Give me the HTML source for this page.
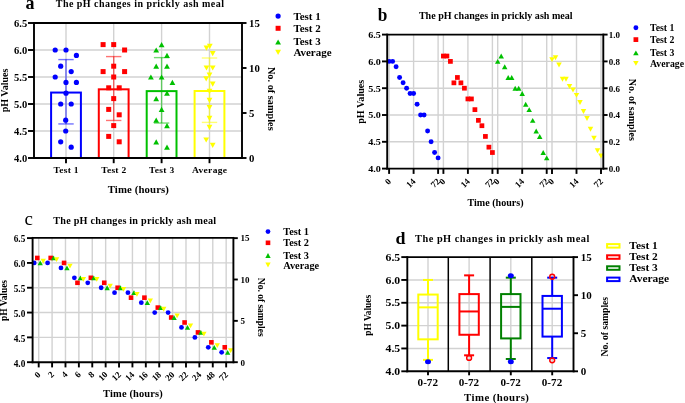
<!DOCTYPE html>
<html><head><meta charset="utf-8"><title>pH changes</title>
<style>
html,body{margin:0;padding:0;background:#fff;width:685px;height:403px;overflow:hidden}
svg{display:block;font-family:"Liberation Serif", serif}
svg{will-change:transform}
</style></head><body>
<svg width="685" height="403" viewBox="0 0 685 403">
<rect x="0" y="0" width="685" height="403" fill="#fff"/>
<line x1="34.00" y1="131.00" x2="242.00" y2="131.00" stroke="#d2d2d2" stroke-width="1.4" />
<line x1="34.00" y1="104.00" x2="242.00" y2="104.00" stroke="#d2d2d2" stroke-width="1.4" />
<line x1="34.00" y1="77.00" x2="242.00" y2="77.00" stroke="#d2d2d2" stroke-width="1.4" />
<line x1="34.00" y1="50.00" x2="242.00" y2="50.00" stroke="#d2d2d2" stroke-width="1.4" />
<line x1="66.00" y1="23.00" x2="66.00" y2="158.00" stroke="#d2d2d2" stroke-width="1.4" />
<line x1="113.70" y1="23.00" x2="113.70" y2="158.00" stroke="#d2d2d2" stroke-width="1.4" />
<line x1="161.60" y1="23.00" x2="161.60" y2="158.00" stroke="#d2d2d2" stroke-width="1.4" />
<line x1="209.50" y1="23.00" x2="209.50" y2="158.00" stroke="#d2d2d2" stroke-width="1.4" />
<rect x="51.10" y="92.56" width="29.8" height="65.44" fill="none" stroke="#0000ff" stroke-width="2"/>
<rect x="98.80" y="89.32" width="29.8" height="68.68" fill="none" stroke="#ff0000" stroke-width="2"/>
<rect x="146.70" y="91.12" width="29.8" height="66.88" fill="none" stroke="#00c000" stroke-width="2"/>
<rect x="194.60" y="91.00" width="29.8" height="67.00" fill="none" stroke="#ffff00" stroke-width="2"/>
<circle cx="55.20" cy="50.00" r="2.6" fill="#0000ff"/>
<circle cx="66.00" cy="50.00" r="2.6" fill="#0000ff"/>
<circle cx="76.40" cy="55.40" r="2.6" fill="#0000ff"/>
<circle cx="60.70" cy="66.20" r="2.6" fill="#0000ff"/>
<circle cx="71.20" cy="71.60" r="2.6" fill="#0000ff"/>
<circle cx="55.20" cy="77.00" r="2.6" fill="#0000ff"/>
<circle cx="66.00" cy="82.40" r="2.6" fill="#0000ff"/>
<circle cx="76.40" cy="82.40" r="2.6" fill="#0000ff"/>
<circle cx="66.00" cy="93.20" r="2.6" fill="#0000ff"/>
<circle cx="60.70" cy="104.00" r="2.6" fill="#0000ff"/>
<circle cx="71.20" cy="104.00" r="2.6" fill="#0000ff"/>
<circle cx="65.70" cy="120.20" r="2.6" fill="#0000ff"/>
<circle cx="65.70" cy="131.00" r="2.6" fill="#0000ff"/>
<circle cx="60.70" cy="141.80" r="2.6" fill="#0000ff"/>
<circle cx="71.20" cy="147.20" r="2.6" fill="#0000ff"/>
<rect x="100.60" y="42.10" width="5.0" height="5.0" fill="#ff0000"/>
<rect x="111.20" y="42.10" width="5.0" height="5.0" fill="#ff0000"/>
<rect x="122.10" y="47.50" width="5.0" height="5.0" fill="#ff0000"/>
<rect x="111.20" y="63.70" width="5.0" height="5.0" fill="#ff0000"/>
<rect x="100.60" y="69.10" width="5.0" height="5.0" fill="#ff0000"/>
<rect x="122.10" y="69.10" width="5.0" height="5.0" fill="#ff0000"/>
<rect x="111.20" y="74.50" width="5.0" height="5.0" fill="#ff0000"/>
<rect x="106.20" y="85.30" width="5.0" height="5.0" fill="#ff0000"/>
<rect x="116.70" y="85.30" width="5.0" height="5.0" fill="#ff0000"/>
<rect x="111.20" y="96.10" width="5.0" height="5.0" fill="#ff0000"/>
<rect x="106.20" y="106.90" width="5.0" height="5.0" fill="#ff0000"/>
<rect x="116.70" y="112.30" width="5.0" height="5.0" fill="#ff0000"/>
<rect x="111.20" y="123.10" width="5.0" height="5.0" fill="#ff0000"/>
<rect x="106.20" y="133.90" width="5.0" height="5.0" fill="#ff0000"/>
<rect x="116.70" y="139.30" width="5.0" height="5.0" fill="#ff0000"/>
<polygon points="158.70,47.20 164.50,47.20 161.60,42.00" fill="#00c000"/>
<polygon points="153.30,52.60 159.10,52.60 156.20,47.40" fill="#00c000"/>
<polygon points="164.10,58.00 169.90,58.00 167.00,52.80" fill="#00c000"/>
<polygon points="153.30,68.80 159.10,68.80 156.20,63.60" fill="#00c000"/>
<polygon points="164.10,68.80 169.90,68.80 167.00,63.60" fill="#00c000"/>
<polygon points="148.00,79.60 153.80,79.60 150.90,74.40" fill="#00c000"/>
<polygon points="158.70,79.60 164.50,79.60 161.60,74.40" fill="#00c000"/>
<polygon points="169.50,85.00 175.30,85.00 172.40,79.80" fill="#00c000"/>
<polygon points="164.10,95.80 169.90,95.80 167.00,90.60" fill="#00c000"/>
<polygon points="153.30,101.20 159.10,101.20 156.20,96.00" fill="#00c000"/>
<polygon points="158.70,112.00 164.50,112.00 161.60,106.80" fill="#00c000"/>
<polygon points="153.30,122.80 159.10,122.80 156.20,117.60" fill="#00c000"/>
<polygon points="164.10,128.20 169.90,128.20 167.00,123.00" fill="#00c000"/>
<polygon points="153.30,144.40 159.10,144.40 156.20,139.20" fill="#00c000"/>
<polygon points="164.10,149.80 169.90,149.80 167.00,144.60" fill="#00c000"/>
<polygon points="206.90,43.80 212.70,43.80 209.80,49.00" fill="#ffff00"/>
<polygon points="203.60,45.60 209.40,45.60 206.50,50.80" fill="#ffff00"/>
<polygon points="209.80,51.00 215.60,51.00 212.70,56.20" fill="#ffff00"/>
<polygon points="203.60,65.40 209.40,65.40 206.50,70.60" fill="#ffff00"/>
<polygon points="209.80,65.40 215.60,65.40 212.70,70.60" fill="#ffff00"/>
<polygon points="206.60,72.60 212.40,72.60 209.50,77.80" fill="#ffff00"/>
<polygon points="203.30,76.20 209.10,76.20 206.20,81.40" fill="#ffff00"/>
<polygon points="209.80,81.60 215.60,81.60 212.70,86.80" fill="#ffff00"/>
<polygon points="206.60,88.80 212.40,88.80 209.50,94.00" fill="#ffff00"/>
<polygon points="206.60,97.80 212.40,97.80 209.50,103.00" fill="#ffff00"/>
<polygon points="206.60,105.00 212.40,105.00 209.50,110.20" fill="#ffff00"/>
<polygon points="206.60,115.80 212.40,115.80 209.50,121.00" fill="#ffff00"/>
<polygon points="206.60,124.80 212.40,124.80 209.50,130.00" fill="#ffff00"/>
<polygon points="203.30,137.40 209.10,137.40 206.20,142.60" fill="#ffff00"/>
<polygon points="209.80,142.80 215.60,142.80 212.70,148.00" fill="#ffff00"/>
<line x1="66.00" y1="59.59" x2="66.00" y2="123.93" stroke="#0000ff" stroke-width="1.4" stroke-opacity="0.55"/>
<line x1="58.30" y1="59.59" x2="73.70" y2="59.59" stroke="#0000ff" stroke-width="1.4" stroke-opacity="0.55"/>
<line x1="58.30" y1="123.93" x2="73.70" y2="123.93" stroke="#0000ff" stroke-width="1.4" stroke-opacity="0.55"/>
<line x1="113.70" y1="56.58" x2="113.70" y2="120.46" stroke="#ff0000" stroke-width="1.4" stroke-opacity="0.55"/>
<line x1="106.00" y1="56.58" x2="121.40" y2="56.58" stroke="#ff0000" stroke-width="1.4" stroke-opacity="0.55"/>
<line x1="106.00" y1="120.46" x2="121.40" y2="120.46" stroke="#ff0000" stroke-width="1.4" stroke-opacity="0.55"/>
<line x1="161.60" y1="57.61" x2="161.60" y2="123.03" stroke="#00c000" stroke-width="1.4" stroke-opacity="0.55"/>
<line x1="153.90" y1="57.61" x2="169.30" y2="57.61" stroke="#00c000" stroke-width="1.4" stroke-opacity="0.55"/>
<line x1="153.90" y1="123.03" x2="169.30" y2="123.03" stroke="#00c000" stroke-width="1.4" stroke-opacity="0.55"/>
<line x1="209.50" y1="58.00" x2="209.50" y2="122.40" stroke="#ffff00" stroke-width="1.4" stroke-opacity="0.55"/>
<line x1="201.80" y1="58.00" x2="217.20" y2="58.00" stroke="#ffff00" stroke-width="1.4" stroke-opacity="0.55"/>
<line x1="201.80" y1="122.40" x2="217.20" y2="122.40" stroke="#ffff00" stroke-width="1.4" stroke-opacity="0.55"/>
<line x1="34.00" y1="23.00" x2="242.00" y2="23.00" stroke="#000000" stroke-width="1.9" />
<line x1="33.05" y1="158.00" x2="242.95" y2="158.00" stroke="#000000" stroke-width="1.9" />
<line x1="34.00" y1="22.05" x2="34.00" y2="158.95" stroke="#000000" stroke-width="1.9" />
<line x1="242.00" y1="22.05" x2="242.00" y2="158.95" stroke="#000000" stroke-width="1.9" />
<line x1="28.00" y1="158.00" x2="34.00" y2="158.00" stroke="#000000" stroke-width="1.9" />
<text x="27.20" y="161.70" font-size="9.6" text-anchor="end" font-weight="bold" fill="#000000" textLength="13.20" lengthAdjust="spacingAndGlyphs">4.0</text>
<line x1="28.00" y1="131.00" x2="34.00" y2="131.00" stroke="#000000" stroke-width="1.9" />
<text x="27.20" y="134.70" font-size="9.6" text-anchor="end" font-weight="bold" fill="#000000" textLength="13.20" lengthAdjust="spacingAndGlyphs">4.5</text>
<line x1="28.00" y1="104.00" x2="34.00" y2="104.00" stroke="#000000" stroke-width="1.9" />
<text x="27.20" y="107.70" font-size="9.6" text-anchor="end" font-weight="bold" fill="#000000" textLength="13.20" lengthAdjust="spacingAndGlyphs">5.0</text>
<line x1="28.00" y1="77.00" x2="34.00" y2="77.00" stroke="#000000" stroke-width="1.9" />
<text x="27.20" y="80.70" font-size="9.6" text-anchor="end" font-weight="bold" fill="#000000" textLength="13.20" lengthAdjust="spacingAndGlyphs">5.5</text>
<line x1="28.00" y1="50.00" x2="34.00" y2="50.00" stroke="#000000" stroke-width="1.9" />
<text x="27.20" y="53.70" font-size="9.6" text-anchor="end" font-weight="bold" fill="#000000" textLength="13.20" lengthAdjust="spacingAndGlyphs">6.0</text>
<line x1="28.00" y1="23.00" x2="34.00" y2="23.00" stroke="#000000" stroke-width="1.9" />
<text x="27.20" y="26.70" font-size="9.6" text-anchor="end" font-weight="bold" fill="#000000" textLength="13.20" lengthAdjust="spacingAndGlyphs">6.5</text>
<line x1="242.00" y1="158.00" x2="246.50" y2="158.00" stroke="#000000" stroke-width="1.9" />
<text x="249.00" y="161.50" font-size="9.8" text-anchor="start" font-weight="bold" fill="#000000" textLength="5.39" lengthAdjust="spacingAndGlyphs">0</text>
<line x1="242.00" y1="113.00" x2="246.50" y2="113.00" stroke="#000000" stroke-width="1.9" />
<text x="249.00" y="116.50" font-size="9.8" text-anchor="start" font-weight="bold" fill="#000000" textLength="5.39" lengthAdjust="spacingAndGlyphs">5</text>
<line x1="242.00" y1="68.00" x2="246.50" y2="68.00" stroke="#000000" stroke-width="1.9" />
<text x="249.00" y="71.50" font-size="9.8" text-anchor="start" font-weight="bold" fill="#000000" textLength="10.78" lengthAdjust="spacingAndGlyphs">10</text>
<line x1="242.00" y1="23.00" x2="246.50" y2="23.00" stroke="#000000" stroke-width="1.9" />
<text x="249.00" y="26.50" font-size="9.8" text-anchor="start" font-weight="bold" fill="#000000" textLength="10.78" lengthAdjust="spacingAndGlyphs">15</text>
<line x1="66.00" y1="158.00" x2="66.00" y2="163.20" stroke="#000000" stroke-width="1.9" />
<text transform="translate(66.00 173.40) scale(1.06 1)" x="0" y="0" font-size="9.0" text-anchor="middle" font-weight="bold" fill="#000000" textLength="23.69" lengthAdjust="spacing">Test 1</text>
<line x1="113.70" y1="158.00" x2="113.70" y2="163.20" stroke="#000000" stroke-width="1.9" />
<text transform="translate(113.70 173.40) scale(1.06 1)" x="0" y="0" font-size="9.0" text-anchor="middle" font-weight="bold" fill="#000000" textLength="23.69" lengthAdjust="spacing">Test 2</text>
<line x1="161.60" y1="158.00" x2="161.60" y2="163.20" stroke="#000000" stroke-width="1.9" />
<text transform="translate(161.60 173.40) scale(1.06 1)" x="0" y="0" font-size="9.0" text-anchor="middle" font-weight="bold" fill="#000000" textLength="23.69" lengthAdjust="spacing">Test 3</text>
<line x1="209.50" y1="158.00" x2="209.50" y2="163.20" stroke="#000000" stroke-width="1.9" />
<text transform="translate(209.50 173.40) scale(1.06 1)" x="0" y="0" font-size="9.0" text-anchor="middle" font-weight="bold" fill="#000000" textLength="33.09" lengthAdjust="spacing">Average</text>
<text transform="translate(138.30 192.90) scale(1.06 1)" x="0" y="0" font-size="10.2" text-anchor="middle" font-weight="bold" fill="#000000" textLength="57.83" lengthAdjust="spacing">Time (hours)</text>
<text x="8.00" y="90.50" font-size="10" text-anchor="middle" font-weight="bold" fill="#000000" textLength="43.70" lengthAdjust="spacingAndGlyphs" transform="rotate(-90 8.00 90.50)">pH Values</text>
<text x="267.80" y="98.80" font-size="10" text-anchor="middle" font-weight="bold" fill="#000000" textLength="63.70" lengthAdjust="spacingAndGlyphs" transform="rotate(90 267.80 98.80)">No. of samples</text>
<text x="55.80" y="6.80" font-size="10" text-anchor="start" font-weight="bold" fill="#000000" textLength="168.20" lengthAdjust="spacing">The pH changes in prickly ash meal</text>
<text x="25.60" y="8.80" font-size="18" text-anchor="start" font-weight="bold" fill="#000000" textLength="9.00" lengthAdjust="spacingAndGlyphs">a</text>
<circle cx="278.10" cy="16.10" r="2.6" fill="#0000ff"/>
<text x="293.40" y="19.60" font-size="9.8" text-anchor="start" font-weight="bold" fill="#000000" textLength="27.34" lengthAdjust="spacingAndGlyphs">Test 1</text>
<rect x="275.60" y="25.80" width="5.0" height="5.0" fill="#ff0000"/>
<text x="293.40" y="31.50" font-size="9.8" text-anchor="start" font-weight="bold" fill="#000000" textLength="27.34" lengthAdjust="spacingAndGlyphs">Test 2</text>
<polygon points="275.20,44.60 281.00,44.60 278.10,39.40" fill="#00c000"/>
<text x="293.40" y="45.00" font-size="9.8" text-anchor="start" font-weight="bold" fill="#000000" textLength="27.34" lengthAdjust="spacingAndGlyphs">Test 3</text>
<polygon points="275.20,49.80 281.00,49.80 278.10,55.00" fill="#ffff00"/>
<text x="293.40" y="55.80" font-size="9.8" text-anchor="start" font-weight="bold" fill="#000000" textLength="38.19" lengthAdjust="spacingAndGlyphs">Average</text>
<line x1="387.20" y1="141.80" x2="603.30" y2="141.80" stroke="#d2d2d2" stroke-width="1.4" />
<line x1="387.20" y1="115.00" x2="603.30" y2="115.00" stroke="#d2d2d2" stroke-width="1.4" />
<line x1="387.20" y1="88.20" x2="603.30" y2="88.20" stroke="#d2d2d2" stroke-width="1.4" />
<line x1="387.20" y1="61.40" x2="603.30" y2="61.40" stroke="#d2d2d2" stroke-width="1.4" />
<line x1="389.10" y1="34.60" x2="389.10" y2="168.60" stroke="#d2d2d2" stroke-width="1.4" />
<line x1="413.60" y1="34.60" x2="413.60" y2="168.60" stroke="#d2d2d2" stroke-width="1.4" />
<line x1="438.10" y1="34.60" x2="438.10" y2="168.60" stroke="#d2d2d2" stroke-width="1.4" />
<line x1="443.40" y1="34.60" x2="443.40" y2="168.60" stroke="#d2d2d2" stroke-width="1.4" />
<line x1="467.90" y1="34.60" x2="467.90" y2="168.60" stroke="#d2d2d2" stroke-width="1.4" />
<line x1="492.40" y1="34.60" x2="492.40" y2="168.60" stroke="#d2d2d2" stroke-width="1.4" />
<line x1="497.70" y1="34.60" x2="497.70" y2="168.60" stroke="#d2d2d2" stroke-width="1.4" />
<line x1="522.20" y1="34.60" x2="522.20" y2="168.60" stroke="#d2d2d2" stroke-width="1.4" />
<line x1="546.70" y1="34.60" x2="546.70" y2="168.60" stroke="#d2d2d2" stroke-width="1.4" />
<line x1="552.00" y1="34.60" x2="552.00" y2="168.60" stroke="#d2d2d2" stroke-width="1.4" />
<line x1="576.50" y1="34.60" x2="576.50" y2="168.60" stroke="#d2d2d2" stroke-width="1.4" />
<line x1="601.00" y1="34.60" x2="601.00" y2="168.60" stroke="#d2d2d2" stroke-width="1.4" />
<circle cx="389.10" cy="61.40" r="2.4699999999999998" fill="#0000ff"/>
<circle cx="392.60" cy="61.40" r="2.4699999999999998" fill="#0000ff"/>
<circle cx="396.10" cy="66.76" r="2.4699999999999998" fill="#0000ff"/>
<circle cx="399.60" cy="77.48" r="2.4699999999999998" fill="#0000ff"/>
<circle cx="403.10" cy="82.84" r="2.4699999999999998" fill="#0000ff"/>
<circle cx="406.60" cy="88.20" r="2.4699999999999998" fill="#0000ff"/>
<circle cx="410.10" cy="93.56" r="2.4699999999999998" fill="#0000ff"/>
<circle cx="413.60" cy="93.56" r="2.4699999999999998" fill="#0000ff"/>
<circle cx="417.10" cy="104.28" r="2.4699999999999998" fill="#0000ff"/>
<circle cx="420.60" cy="115.00" r="2.4699999999999998" fill="#0000ff"/>
<circle cx="424.10" cy="115.00" r="2.4699999999999998" fill="#0000ff"/>
<circle cx="427.60" cy="131.08" r="2.4699999999999998" fill="#0000ff"/>
<circle cx="431.10" cy="141.80" r="2.4699999999999998" fill="#0000ff"/>
<circle cx="434.60" cy="152.52" r="2.4699999999999998" fill="#0000ff"/>
<circle cx="438.10" cy="157.88" r="2.4699999999999998" fill="#0000ff"/>
<rect x="441.03" y="53.67" width="4.75" height="4.75" fill="#ff0000"/>
<rect x="444.53" y="53.67" width="4.75" height="4.75" fill="#ff0000"/>
<rect x="448.03" y="59.02" width="4.75" height="4.75" fill="#ff0000"/>
<rect x="451.53" y="80.47" width="4.75" height="4.75" fill="#ff0000"/>
<rect x="455.03" y="75.10" width="4.75" height="4.75" fill="#ff0000"/>
<rect x="458.53" y="80.47" width="4.75" height="4.75" fill="#ff0000"/>
<rect x="462.03" y="85.82" width="4.75" height="4.75" fill="#ff0000"/>
<rect x="465.53" y="96.55" width="4.75" height="4.75" fill="#ff0000"/>
<rect x="469.03" y="96.55" width="4.75" height="4.75" fill="#ff0000"/>
<rect x="472.53" y="107.27" width="4.75" height="4.75" fill="#ff0000"/>
<rect x="476.03" y="117.98" width="4.75" height="4.75" fill="#ff0000"/>
<rect x="479.53" y="123.34" width="4.75" height="4.75" fill="#ff0000"/>
<rect x="483.03" y="134.06" width="4.75" height="4.75" fill="#ff0000"/>
<rect x="486.53" y="144.78" width="4.75" height="4.75" fill="#ff0000"/>
<rect x="490.03" y="150.15" width="4.75" height="4.75" fill="#ff0000"/>
<polygon points="494.95,63.87 500.46,63.87 497.70,58.93" fill="#00c000"/>
<polygon points="498.45,58.51 503.96,58.51 501.20,53.57" fill="#00c000"/>
<polygon points="501.95,69.23 507.46,69.23 504.70,64.29" fill="#00c000"/>
<polygon points="505.45,79.95 510.96,79.95 508.20,75.01" fill="#00c000"/>
<polygon points="508.95,79.95 514.46,79.95 511.70,75.01" fill="#00c000"/>
<polygon points="512.45,90.67 517.96,90.67 515.20,85.73" fill="#00c000"/>
<polygon points="515.95,90.67 521.46,90.67 518.70,85.73" fill="#00c000"/>
<polygon points="519.45,96.03 524.96,96.03 522.20,91.09" fill="#00c000"/>
<polygon points="522.95,106.75 528.46,106.75 525.70,101.81" fill="#00c000"/>
<polygon points="526.45,112.11 531.96,112.11 529.20,107.17" fill="#00c000"/>
<polygon points="529.95,122.83 535.46,122.83 532.70,117.89" fill="#00c000"/>
<polygon points="533.45,133.55 538.96,133.55 536.20,128.61" fill="#00c000"/>
<polygon points="536.95,138.91 542.46,138.91 539.70,133.97" fill="#00c000"/>
<polygon points="540.45,154.99 545.96,154.99 543.20,150.05" fill="#00c000"/>
<polygon points="543.95,160.35 549.46,160.35 546.70,155.41" fill="#00c000"/>
<polygon points="549.25,57.14 554.75,57.14 552.00,62.08" fill="#ffff00"/>
<polygon points="552.75,55.36 558.25,55.36 555.50,60.30" fill="#ffff00"/>
<polygon points="556.25,62.50 561.75,62.50 559.00,67.44" fill="#ffff00"/>
<polygon points="559.75,76.80 565.25,76.80 562.50,81.74" fill="#ffff00"/>
<polygon points="563.25,76.80 568.75,76.80 566.00,81.74" fill="#ffff00"/>
<polygon points="566.75,83.94 572.25,83.94 569.50,88.88" fill="#ffff00"/>
<polygon points="570.25,87.52 575.75,87.52 573.00,92.46" fill="#ffff00"/>
<polygon points="573.75,92.88 579.25,92.88 576.50,97.82" fill="#ffff00"/>
<polygon points="577.25,100.02 582.75,100.02 580.00,104.96" fill="#ffff00"/>
<polygon points="580.75,108.96 586.25,108.96 583.50,113.90" fill="#ffff00"/>
<polygon points="584.25,116.10 589.75,116.10 587.00,121.04" fill="#ffff00"/>
<polygon points="587.75,126.82 593.25,126.82 590.50,131.76" fill="#ffff00"/>
<polygon points="591.25,135.76 596.75,135.76 594.00,140.70" fill="#ffff00"/>
<polygon points="594.75,148.26 600.25,148.26 597.50,153.20" fill="#ffff00"/>
<polygon points="598.25,153.62 603.75,153.62 601.00,158.56" fill="#ffff00"/>
<line x1="387.20" y1="34.60" x2="603.30" y2="34.60" stroke="#000000" stroke-width="1.9" />
<line x1="386.25" y1="168.60" x2="604.25" y2="168.60" stroke="#000000" stroke-width="1.9" />
<line x1="387.20" y1="33.65" x2="387.20" y2="169.55" stroke="#000000" stroke-width="1.9" />
<line x1="603.30" y1="33.65" x2="603.30" y2="169.55" stroke="#000000" stroke-width="1.9" />
<line x1="382.00" y1="168.60" x2="387.20" y2="168.60" stroke="#000000" stroke-width="1.9" />
<text x="380.90" y="172.00" font-size="9.2" text-anchor="end" font-weight="bold" fill="#000000" textLength="12.65" lengthAdjust="spacingAndGlyphs">4.0</text>
<line x1="382.00" y1="141.80" x2="387.20" y2="141.80" stroke="#000000" stroke-width="1.9" />
<text x="380.90" y="145.20" font-size="9.2" text-anchor="end" font-weight="bold" fill="#000000" textLength="12.65" lengthAdjust="spacingAndGlyphs">4.5</text>
<line x1="382.00" y1="115.00" x2="387.20" y2="115.00" stroke="#000000" stroke-width="1.9" />
<text x="380.90" y="118.40" font-size="9.2" text-anchor="end" font-weight="bold" fill="#000000" textLength="12.65" lengthAdjust="spacingAndGlyphs">5.0</text>
<line x1="382.00" y1="88.20" x2="387.20" y2="88.20" stroke="#000000" stroke-width="1.9" />
<text x="380.90" y="91.60" font-size="9.2" text-anchor="end" font-weight="bold" fill="#000000" textLength="12.65" lengthAdjust="spacingAndGlyphs">5.5</text>
<line x1="382.00" y1="61.40" x2="387.20" y2="61.40" stroke="#000000" stroke-width="1.9" />
<text x="380.90" y="64.80" font-size="9.2" text-anchor="end" font-weight="bold" fill="#000000" textLength="12.65" lengthAdjust="spacingAndGlyphs">6.0</text>
<line x1="382.00" y1="34.60" x2="387.20" y2="34.60" stroke="#000000" stroke-width="1.9" />
<text x="380.90" y="38.00" font-size="9.2" text-anchor="end" font-weight="bold" fill="#000000" textLength="12.65" lengthAdjust="spacingAndGlyphs">6.5</text>
<line x1="603.30" y1="168.60" x2="607.60" y2="168.60" stroke="#000000" stroke-width="1.9" />
<text x="608.80" y="172.00" font-size="9.2" text-anchor="start" font-weight="bold" fill="#000000" textLength="11.20" lengthAdjust="spacingAndGlyphs">0.0</text>
<line x1="603.30" y1="141.80" x2="607.60" y2="141.80" stroke="#000000" stroke-width="1.9" />
<text x="608.80" y="145.20" font-size="9.2" text-anchor="start" font-weight="bold" fill="#000000" textLength="11.20" lengthAdjust="spacingAndGlyphs">0.2</text>
<line x1="603.30" y1="115.00" x2="607.60" y2="115.00" stroke="#000000" stroke-width="1.9" />
<text x="608.80" y="118.40" font-size="9.2" text-anchor="start" font-weight="bold" fill="#000000" textLength="11.20" lengthAdjust="spacingAndGlyphs">0.4</text>
<line x1="603.30" y1="88.20" x2="607.60" y2="88.20" stroke="#000000" stroke-width="1.9" />
<text x="608.80" y="91.60" font-size="9.2" text-anchor="start" font-weight="bold" fill="#000000" textLength="11.20" lengthAdjust="spacingAndGlyphs">0.6</text>
<line x1="603.30" y1="61.40" x2="607.60" y2="61.40" stroke="#000000" stroke-width="1.9" />
<text x="608.80" y="64.80" font-size="9.2" text-anchor="start" font-weight="bold" fill="#000000" textLength="11.20" lengthAdjust="spacingAndGlyphs">0.8</text>
<line x1="603.30" y1="34.60" x2="607.60" y2="34.60" stroke="#000000" stroke-width="1.9" />
<text x="608.80" y="38.00" font-size="9.2" text-anchor="start" font-weight="bold" fill="#000000" textLength="11.20" lengthAdjust="spacingAndGlyphs">1.0</text>
<line x1="389.10" y1="168.60" x2="389.10" y2="173.90" stroke="#000000" stroke-width="1.9" />
<text x="391.70" y="182.00" font-size="9.0" text-anchor="end" font-weight="bold" fill="#000000" transform="rotate(-45 391.70 182.00)">0</text>
<line x1="413.60" y1="168.60" x2="413.60" y2="173.90" stroke="#000000" stroke-width="1.9" />
<text x="416.20" y="182.00" font-size="9.0" text-anchor="end" font-weight="bold" fill="#000000" transform="rotate(-45 416.20 182.00)">14</text>
<line x1="438.10" y1="168.60" x2="438.10" y2="173.90" stroke="#000000" stroke-width="1.9" />
<text x="440.70" y="182.00" font-size="9.0" text-anchor="end" font-weight="bold" fill="#000000" transform="rotate(-45 440.70 182.00)">72</text>
<line x1="443.40" y1="168.60" x2="443.40" y2="173.90" stroke="#000000" stroke-width="1.9" />
<text x="446.00" y="182.00" font-size="9.0" text-anchor="end" font-weight="bold" fill="#000000" transform="rotate(-45 446.00 182.00)">0</text>
<line x1="467.90" y1="168.60" x2="467.90" y2="173.90" stroke="#000000" stroke-width="1.9" />
<text x="470.50" y="182.00" font-size="9.0" text-anchor="end" font-weight="bold" fill="#000000" transform="rotate(-45 470.50 182.00)">14</text>
<line x1="492.40" y1="168.60" x2="492.40" y2="173.90" stroke="#000000" stroke-width="1.9" />
<text x="495.00" y="182.00" font-size="9.0" text-anchor="end" font-weight="bold" fill="#000000" transform="rotate(-45 495.00 182.00)">72</text>
<line x1="497.70" y1="168.60" x2="497.70" y2="173.90" stroke="#000000" stroke-width="1.9" />
<text x="500.30" y="182.00" font-size="9.0" text-anchor="end" font-weight="bold" fill="#000000" transform="rotate(-45 500.30 182.00)">0</text>
<line x1="522.20" y1="168.60" x2="522.20" y2="173.90" stroke="#000000" stroke-width="1.9" />
<text x="524.80" y="182.00" font-size="9.0" text-anchor="end" font-weight="bold" fill="#000000" transform="rotate(-45 524.80 182.00)">14</text>
<line x1="546.70" y1="168.60" x2="546.70" y2="173.90" stroke="#000000" stroke-width="1.9" />
<text x="549.30" y="182.00" font-size="9.0" text-anchor="end" font-weight="bold" fill="#000000" transform="rotate(-45 549.30 182.00)">72</text>
<line x1="552.00" y1="168.60" x2="552.00" y2="173.90" stroke="#000000" stroke-width="1.9" />
<text x="554.60" y="182.00" font-size="9.0" text-anchor="end" font-weight="bold" fill="#000000" transform="rotate(-45 554.60 182.00)">0</text>
<line x1="576.50" y1="168.60" x2="576.50" y2="173.90" stroke="#000000" stroke-width="1.9" />
<text x="579.10" y="182.00" font-size="9.0" text-anchor="end" font-weight="bold" fill="#000000" transform="rotate(-45 579.10 182.00)">14</text>
<line x1="601.00" y1="168.60" x2="601.00" y2="173.90" stroke="#000000" stroke-width="1.9" />
<text x="603.60" y="182.00" font-size="9.0" text-anchor="end" font-weight="bold" fill="#000000" transform="rotate(-45 603.60 182.00)">72</text>
<text x="495.50" y="206.00" font-size="10" text-anchor="middle" font-weight="bold" fill="#000000" textLength="56.10" lengthAdjust="spacingAndGlyphs">Time (hours)</text>
<text x="363.60" y="101.80" font-size="10" text-anchor="middle" font-weight="bold" fill="#000000" textLength="44.00" lengthAdjust="spacingAndGlyphs" transform="rotate(-90 363.60 101.80)">pH Values</text>
<text x="628.60" y="109.80" font-size="10" text-anchor="middle" font-weight="bold" fill="#000000" textLength="62.00" lengthAdjust="spacingAndGlyphs" transform="rotate(90 628.60 109.80)">No. of samples</text>
<text x="418.90" y="19.20" font-size="10" text-anchor="start" font-weight="bold" fill="#000000" textLength="153.70" lengthAdjust="spacingAndGlyphs">The pH changes in prickly ash meal</text>
<text x="377.80" y="21.00" font-size="18.5" text-anchor="start" font-weight="bold" fill="#000000" textLength="9.60" lengthAdjust="spacingAndGlyphs">b</text>
<circle cx="635.90" cy="27.70" r="2.4699999999999998" fill="#0000ff"/>
<text x="650.00" y="30.70" font-size="9.5" text-anchor="start" font-weight="bold" fill="#000000" textLength="24.38" lengthAdjust="spacingAndGlyphs">Test 1</text>
<rect x="633.52" y="37.23" width="4.75" height="4.75" fill="#ff0000"/>
<text x="650.00" y="43.00" font-size="9.5" text-anchor="start" font-weight="bold" fill="#000000" textLength="24.38" lengthAdjust="spacingAndGlyphs">Test 2</text>
<polygon points="633.14,55.37 638.65,55.37 635.90,50.43" fill="#00c000"/>
<text x="650.00" y="56.20" font-size="9.5" text-anchor="start" font-weight="bold" fill="#000000" textLength="24.38" lengthAdjust="spacingAndGlyphs">Test 3</text>
<polygon points="633.14,60.93 638.65,60.93 635.90,65.87" fill="#ffff00"/>
<text x="650.00" y="66.80" font-size="9.5" text-anchor="start" font-weight="bold" fill="#000000" textLength="34.05" lengthAdjust="spacingAndGlyphs">Average</text>
<line x1="32.60" y1="337.38" x2="233.40" y2="337.38" stroke="#d2d2d2" stroke-width="1.4" />
<line x1="32.60" y1="312.56" x2="233.40" y2="312.56" stroke="#d2d2d2" stroke-width="1.4" />
<line x1="32.60" y1="287.74" x2="233.40" y2="287.74" stroke="#d2d2d2" stroke-width="1.4" />
<line x1="32.60" y1="262.92" x2="233.40" y2="262.92" stroke="#d2d2d2" stroke-width="1.4" />
<line x1="38.70" y1="237.90" x2="38.70" y2="362.20" stroke="#d2d2d2" stroke-width="1.4" />
<line x1="52.09" y1="237.90" x2="52.09" y2="362.20" stroke="#d2d2d2" stroke-width="1.4" />
<line x1="65.48" y1="237.90" x2="65.48" y2="362.20" stroke="#d2d2d2" stroke-width="1.4" />
<line x1="78.87" y1="237.90" x2="78.87" y2="362.20" stroke="#d2d2d2" stroke-width="1.4" />
<line x1="92.26" y1="237.90" x2="92.26" y2="362.20" stroke="#d2d2d2" stroke-width="1.4" />
<line x1="105.65" y1="237.90" x2="105.65" y2="362.20" stroke="#d2d2d2" stroke-width="1.4" />
<line x1="119.04" y1="237.90" x2="119.04" y2="362.20" stroke="#d2d2d2" stroke-width="1.4" />
<line x1="132.43" y1="237.90" x2="132.43" y2="362.20" stroke="#d2d2d2" stroke-width="1.4" />
<line x1="145.82" y1="237.90" x2="145.82" y2="362.20" stroke="#d2d2d2" stroke-width="1.4" />
<line x1="159.21" y1="237.90" x2="159.21" y2="362.20" stroke="#d2d2d2" stroke-width="1.4" />
<line x1="172.60" y1="237.90" x2="172.60" y2="362.20" stroke="#d2d2d2" stroke-width="1.4" />
<line x1="185.99" y1="237.90" x2="185.99" y2="362.20" stroke="#d2d2d2" stroke-width="1.4" />
<line x1="199.38" y1="237.90" x2="199.38" y2="362.20" stroke="#d2d2d2" stroke-width="1.4" />
<line x1="212.77" y1="237.90" x2="212.77" y2="362.20" stroke="#d2d2d2" stroke-width="1.4" />
<line x1="226.16" y1="237.90" x2="226.16" y2="362.20" stroke="#d2d2d2" stroke-width="1.4" />
<circle cx="34.20" cy="262.92" r="2.3920000000000003" fill="#0000ff"/>
<rect x="35.00" y="255.66" width="4.6000000000000005" height="4.6000000000000005" fill="#ff0000"/>
<polygon points="37.53,265.31 42.87,265.31 40.20,260.53" fill="#00c000"/>
<polygon points="40.53,258.87 45.87,258.87 43.20,263.66" fill="#ffff00"/>
<circle cx="47.59" cy="262.92" r="2.3920000000000003" fill="#0000ff"/>
<rect x="48.39" y="255.66" width="4.6000000000000005" height="4.6000000000000005" fill="#ff0000"/>
<polygon points="50.92,260.35 56.26,260.35 53.59,255.56" fill="#00c000"/>
<polygon points="53.92,257.22 59.26,257.22 56.59,262.00" fill="#ffff00"/>
<circle cx="60.98" cy="267.88" r="2.3920000000000003" fill="#0000ff"/>
<rect x="61.78" y="260.62" width="4.6000000000000005" height="4.6000000000000005" fill="#ff0000"/>
<polygon points="64.31,270.28 69.65,270.28 66.98,265.49" fill="#00c000"/>
<polygon points="67.31,263.84 72.65,263.84 69.98,268.62" fill="#ffff00"/>
<circle cx="74.37" cy="277.81" r="2.3920000000000003" fill="#0000ff"/>
<rect x="75.17" y="280.48" width="4.6000000000000005" height="4.6000000000000005" fill="#ff0000"/>
<polygon points="77.70,280.20 83.04,280.20 80.37,275.42" fill="#00c000"/>
<polygon points="80.70,277.07 86.04,277.07 83.37,281.86" fill="#ffff00"/>
<circle cx="87.76" cy="282.78" r="2.3920000000000003" fill="#0000ff"/>
<rect x="88.56" y="275.51" width="4.6000000000000005" height="4.6000000000000005" fill="#ff0000"/>
<polygon points="91.09,280.20 96.43,280.20 93.76,275.42" fill="#00c000"/>
<polygon points="94.09,277.07 99.43,277.07 96.76,281.86" fill="#ffff00"/>
<circle cx="101.15" cy="287.74" r="2.3920000000000003" fill="#0000ff"/>
<rect x="101.95" y="280.48" width="4.6000000000000005" height="4.6000000000000005" fill="#ff0000"/>
<polygon points="104.48,290.13 109.82,290.13 107.15,285.35" fill="#00c000"/>
<polygon points="107.48,283.69 112.82,283.69 110.15,288.48" fill="#ffff00"/>
<circle cx="114.54" cy="292.70" r="2.3920000000000003" fill="#0000ff"/>
<rect x="115.34" y="285.44" width="4.6000000000000005" height="4.6000000000000005" fill="#ff0000"/>
<polygon points="117.87,290.13 123.21,290.13 120.54,285.35" fill="#00c000"/>
<polygon points="120.87,287.00 126.21,287.00 123.54,291.79" fill="#ffff00"/>
<circle cx="127.93" cy="292.70" r="2.3920000000000003" fill="#0000ff"/>
<rect x="128.73" y="295.37" width="4.6000000000000005" height="4.6000000000000005" fill="#ff0000"/>
<polygon points="131.26,295.10 136.60,295.10 133.93,290.31" fill="#00c000"/>
<polygon points="134.26,291.97 139.60,291.97 136.93,296.75" fill="#ffff00"/>
<circle cx="141.32" cy="302.63" r="2.3920000000000003" fill="#0000ff"/>
<rect x="142.12" y="295.37" width="4.6000000000000005" height="4.6000000000000005" fill="#ff0000"/>
<polygon points="144.65,305.02 149.99,305.02 147.32,300.24" fill="#00c000"/>
<polygon points="147.65,298.59 152.99,298.59 150.32,303.37" fill="#ffff00"/>
<circle cx="154.71" cy="312.56" r="2.3920000000000003" fill="#0000ff"/>
<rect x="155.51" y="305.30" width="4.6000000000000005" height="4.6000000000000005" fill="#ff0000"/>
<polygon points="158.04,309.99 163.38,309.99 160.71,305.20" fill="#00c000"/>
<polygon points="161.04,306.86 166.38,306.86 163.71,311.64" fill="#ffff00"/>
<circle cx="168.10" cy="312.56" r="2.3920000000000003" fill="#0000ff"/>
<rect x="168.90" y="315.22" width="4.6000000000000005" height="4.6000000000000005" fill="#ff0000"/>
<polygon points="171.43,319.92 176.77,319.92 174.10,315.13" fill="#00c000"/>
<polygon points="174.43,313.48 179.77,313.48 177.10,318.26" fill="#ffff00"/>
<circle cx="181.49" cy="327.45" r="2.3920000000000003" fill="#0000ff"/>
<rect x="182.29" y="320.19" width="4.6000000000000005" height="4.6000000000000005" fill="#ff0000"/>
<polygon points="184.82,329.84 190.16,329.84 187.49,325.06" fill="#00c000"/>
<polygon points="187.82,323.41 193.16,323.41 190.49,328.19" fill="#ffff00"/>
<circle cx="194.88" cy="337.38" r="2.3920000000000003" fill="#0000ff"/>
<rect x="195.68" y="330.12" width="4.6000000000000005" height="4.6000000000000005" fill="#ff0000"/>
<polygon points="198.21,334.81 203.55,334.81 200.88,330.02" fill="#00c000"/>
<polygon points="201.21,331.68 206.55,331.68 203.88,336.46" fill="#ffff00"/>
<circle cx="208.27" cy="347.31" r="2.3920000000000003" fill="#0000ff"/>
<rect x="209.07" y="340.04" width="4.6000000000000005" height="4.6000000000000005" fill="#ff0000"/>
<polygon points="211.60,349.70 216.94,349.70 214.27,344.92" fill="#00c000"/>
<polygon points="214.60,343.26 219.94,343.26 217.27,348.05" fill="#ffff00"/>
<circle cx="221.66" cy="352.27" r="2.3920000000000003" fill="#0000ff"/>
<rect x="222.46" y="345.01" width="4.6000000000000005" height="4.6000000000000005" fill="#ff0000"/>
<polygon points="224.99,354.66 230.33,354.66 227.66,349.88" fill="#00c000"/>
<polygon points="227.99,348.23 233.33,348.23 230.66,353.01" fill="#ffff00"/>
<line x1="32.60" y1="237.90" x2="233.40" y2="237.90" stroke="#000000" stroke-width="1.9" />
<line x1="31.65" y1="362.20" x2="234.35" y2="362.20" stroke="#000000" stroke-width="1.9" />
<line x1="32.60" y1="236.95" x2="32.60" y2="363.15" stroke="#000000" stroke-width="1.9" />
<line x1="233.40" y1="236.95" x2="233.40" y2="363.15" stroke="#000000" stroke-width="1.9" />
<line x1="27.00" y1="362.20" x2="32.60" y2="362.20" stroke="#000000" stroke-width="1.9" />
<text x="25.30" y="366.50" font-size="9.3" text-anchor="end" font-weight="bold" fill="#000000" textLength="11.60" lengthAdjust="spacingAndGlyphs">4.0</text>
<line x1="27.00" y1="337.38" x2="32.60" y2="337.38" stroke="#000000" stroke-width="1.9" />
<text x="25.30" y="341.68" font-size="9.3" text-anchor="end" font-weight="bold" fill="#000000" textLength="11.60" lengthAdjust="spacingAndGlyphs">4.5</text>
<line x1="27.00" y1="312.56" x2="32.60" y2="312.56" stroke="#000000" stroke-width="1.9" />
<text x="25.30" y="316.86" font-size="9.3" text-anchor="end" font-weight="bold" fill="#000000" textLength="11.60" lengthAdjust="spacingAndGlyphs">5.0</text>
<line x1="27.00" y1="287.74" x2="32.60" y2="287.74" stroke="#000000" stroke-width="1.9" />
<text x="25.30" y="292.04" font-size="9.3" text-anchor="end" font-weight="bold" fill="#000000" textLength="11.60" lengthAdjust="spacingAndGlyphs">5.5</text>
<line x1="27.00" y1="262.92" x2="32.60" y2="262.92" stroke="#000000" stroke-width="1.9" />
<text x="25.30" y="267.22" font-size="9.3" text-anchor="end" font-weight="bold" fill="#000000" textLength="11.60" lengthAdjust="spacingAndGlyphs">6.0</text>
<line x1="27.00" y1="238.10" x2="32.60" y2="238.10" stroke="#000000" stroke-width="1.9" />
<text x="25.30" y="242.40" font-size="9.3" text-anchor="end" font-weight="bold" fill="#000000" textLength="11.60" lengthAdjust="spacingAndGlyphs">6.5</text>
<line x1="233.40" y1="362.20" x2="237.80" y2="362.20" stroke="#000000" stroke-width="1.9" />
<text x="240.60" y="365.50" font-size="9.0" text-anchor="start" font-weight="bold" fill="#000000" textLength="4.50" lengthAdjust="spacingAndGlyphs">0</text>
<line x1="233.40" y1="320.85" x2="237.80" y2="320.85" stroke="#000000" stroke-width="1.9" />
<text x="240.60" y="324.15" font-size="9.0" text-anchor="start" font-weight="bold" fill="#000000" textLength="4.50" lengthAdjust="spacingAndGlyphs">5</text>
<line x1="233.40" y1="279.50" x2="237.80" y2="279.50" stroke="#000000" stroke-width="1.9" />
<text x="240.60" y="282.80" font-size="9.0" text-anchor="start" font-weight="bold" fill="#000000" textLength="9.00" lengthAdjust="spacingAndGlyphs">10</text>
<line x1="233.40" y1="238.15" x2="237.80" y2="238.15" stroke="#000000" stroke-width="1.9" />
<text x="240.60" y="241.45" font-size="9.0" text-anchor="start" font-weight="bold" fill="#000000" textLength="9.00" lengthAdjust="spacingAndGlyphs">15</text>
<line x1="38.70" y1="362.20" x2="38.70" y2="367.40" stroke="#000000" stroke-width="1.9" />
<text x="41.30" y="375.20" font-size="9.0" text-anchor="end" font-weight="bold" fill="#000000" transform="rotate(-45 41.30 375.20)">0</text>
<line x1="52.09" y1="362.20" x2="52.09" y2="367.40" stroke="#000000" stroke-width="1.9" />
<text x="54.69" y="375.20" font-size="9.0" text-anchor="end" font-weight="bold" fill="#000000" transform="rotate(-45 54.69 375.20)">2</text>
<line x1="65.48" y1="362.20" x2="65.48" y2="367.40" stroke="#000000" stroke-width="1.9" />
<text x="68.08" y="375.20" font-size="9.0" text-anchor="end" font-weight="bold" fill="#000000" transform="rotate(-45 68.08 375.20)">4</text>
<line x1="78.87" y1="362.20" x2="78.87" y2="367.40" stroke="#000000" stroke-width="1.9" />
<text x="81.47" y="375.20" font-size="9.0" text-anchor="end" font-weight="bold" fill="#000000" transform="rotate(-45 81.47 375.20)">6</text>
<line x1="92.26" y1="362.20" x2="92.26" y2="367.40" stroke="#000000" stroke-width="1.9" />
<text x="94.86" y="375.20" font-size="9.0" text-anchor="end" font-weight="bold" fill="#000000" transform="rotate(-45 94.86 375.20)">8</text>
<line x1="105.65" y1="362.20" x2="105.65" y2="367.40" stroke="#000000" stroke-width="1.9" />
<text x="108.25" y="375.20" font-size="9.0" text-anchor="end" font-weight="bold" fill="#000000" transform="rotate(-45 108.25 375.20)">10</text>
<line x1="119.04" y1="362.20" x2="119.04" y2="367.40" stroke="#000000" stroke-width="1.9" />
<text x="121.64" y="375.20" font-size="9.0" text-anchor="end" font-weight="bold" fill="#000000" transform="rotate(-45 121.64 375.20)">12</text>
<line x1="132.43" y1="362.20" x2="132.43" y2="367.40" stroke="#000000" stroke-width="1.9" />
<text x="135.03" y="375.20" font-size="9.0" text-anchor="end" font-weight="bold" fill="#000000" transform="rotate(-45 135.03 375.20)">14</text>
<line x1="145.82" y1="362.20" x2="145.82" y2="367.40" stroke="#000000" stroke-width="1.9" />
<text x="148.42" y="375.20" font-size="9.0" text-anchor="end" font-weight="bold" fill="#000000" transform="rotate(-45 148.42 375.20)">16</text>
<line x1="159.21" y1="362.20" x2="159.21" y2="367.40" stroke="#000000" stroke-width="1.9" />
<text x="161.81" y="375.20" font-size="9.0" text-anchor="end" font-weight="bold" fill="#000000" transform="rotate(-45 161.81 375.20)">18</text>
<line x1="172.60" y1="362.20" x2="172.60" y2="367.40" stroke="#000000" stroke-width="1.9" />
<text x="175.20" y="375.20" font-size="9.0" text-anchor="end" font-weight="bold" fill="#000000" transform="rotate(-45 175.20 375.20)">20</text>
<line x1="185.99" y1="362.20" x2="185.99" y2="367.40" stroke="#000000" stroke-width="1.9" />
<text x="188.59" y="375.20" font-size="9.0" text-anchor="end" font-weight="bold" fill="#000000" transform="rotate(-45 188.59 375.20)">22</text>
<line x1="199.38" y1="362.20" x2="199.38" y2="367.40" stroke="#000000" stroke-width="1.9" />
<text x="201.98" y="375.20" font-size="9.0" text-anchor="end" font-weight="bold" fill="#000000" transform="rotate(-45 201.98 375.20)">24</text>
<line x1="212.77" y1="362.20" x2="212.77" y2="367.40" stroke="#000000" stroke-width="1.9" />
<text x="215.37" y="375.20" font-size="9.0" text-anchor="end" font-weight="bold" fill="#000000" transform="rotate(-45 215.37 375.20)">48</text>
<line x1="226.16" y1="362.20" x2="226.16" y2="367.40" stroke="#000000" stroke-width="1.9" />
<text x="228.76" y="375.20" font-size="9.0" text-anchor="end" font-weight="bold" fill="#000000" transform="rotate(-45 228.76 375.20)">72</text>
<text transform="translate(132.90 396.50) scale(1.09 1)" x="0" y="0" font-size="9.6" text-anchor="middle" font-weight="bold" fill="#000000" textLength="54.68" lengthAdjust="spacing">Time (hours)</text>
<text x="6.80" y="300.50" font-size="9.6" text-anchor="middle" font-weight="bold" fill="#000000" textLength="41.00" lengthAdjust="spacingAndGlyphs" transform="rotate(-90 6.80 300.50)">pH Values</text>
<text x="258.00" y="307.20" font-size="9.6" text-anchor="middle" font-weight="bold" fill="#000000" textLength="58.80" lengthAdjust="spacingAndGlyphs" transform="rotate(90 258.00 307.20)">No. of samples</text>
<text transform="translate(53.30 223.70) scale(1.04 1)" x="0" y="0" font-size="9.8" text-anchor="start" font-weight="bold" fill="#000000" textLength="156.63" lengthAdjust="spacing">The pH changes in prickly ash meal</text>
<text x="24.50" y="224.90" font-size="19.5" text-anchor="start" font-weight="normal" fill="#000000" textLength="8.40" lengthAdjust="spacingAndGlyphs">c</text>
<circle cx="268.00" cy="231.60" r="2.3920000000000003" fill="#0000ff"/>
<text x="283.20" y="235.00" font-size="9.4" text-anchor="start" font-weight="bold" fill="#000000" textLength="25.76" lengthAdjust="spacingAndGlyphs">Test 1</text>
<rect x="265.70" y="240.50" width="4.6000000000000005" height="4.6000000000000005" fill="#ff0000"/>
<text x="283.20" y="246.40" font-size="9.4" text-anchor="start" font-weight="bold" fill="#000000" textLength="25.76" lengthAdjust="spacingAndGlyphs">Test 2</text>
<polygon points="265.33,257.89 270.67,257.89 268.00,253.11" fill="#00c000"/>
<text x="283.20" y="258.70" font-size="9.4" text-anchor="start" font-weight="bold" fill="#000000" textLength="25.76" lengthAdjust="spacingAndGlyphs">Test 3</text>
<polygon points="265.33,262.61 270.67,262.61 268.00,267.39" fill="#ffff00"/>
<text x="283.20" y="268.80" font-size="9.4" text-anchor="start" font-weight="bold" fill="#000000" textLength="35.98" lengthAdjust="spacingAndGlyphs">Average</text>
<line x1="407.30" y1="348.46" x2="573.50" y2="348.46" stroke="#d2d2d2" stroke-width="1.4" />
<line x1="407.30" y1="325.62" x2="573.50" y2="325.62" stroke="#d2d2d2" stroke-width="1.4" />
<line x1="407.30" y1="302.78" x2="573.50" y2="302.78" stroke="#d2d2d2" stroke-width="1.4" />
<line x1="407.30" y1="279.94" x2="573.50" y2="279.94" stroke="#d2d2d2" stroke-width="1.4" />
<line x1="428.00" y1="257.10" x2="428.00" y2="371.30" stroke="#d2d2d2" stroke-width="1.4" />
<line x1="469.10" y1="257.10" x2="469.10" y2="371.30" stroke="#d2d2d2" stroke-width="1.4" />
<line x1="510.80" y1="257.10" x2="510.80" y2="371.30" stroke="#d2d2d2" stroke-width="1.4" />
<line x1="552.20" y1="257.10" x2="552.20" y2="371.30" stroke="#d2d2d2" stroke-width="1.4" />
<line x1="448.30" y1="257.10" x2="448.30" y2="371.30" stroke="#000000" stroke-width="1.5" />
<line x1="490.10" y1="257.10" x2="490.10" y2="371.30" stroke="#000000" stroke-width="1.5" />
<line x1="531.80" y1="257.10" x2="531.80" y2="371.30" stroke="#000000" stroke-width="1.5" />
<line x1="428.00" y1="279.94" x2="428.00" y2="294.56" stroke="#ffff00" stroke-width="2" />
<line x1="428.00" y1="339.32" x2="428.00" y2="359.88" stroke="#ffff00" stroke-width="2" />
<line x1="423.00" y1="279.94" x2="433.00" y2="279.94" stroke="#ffff00" stroke-width="2" />
<line x1="423.00" y1="359.88" x2="433.00" y2="359.88" stroke="#ffff00" stroke-width="2" />
<rect x="418.30" y="294.56" width="19.4" height="44.77" fill="none" stroke="#ffff00" stroke-width="2"/>
<line x1="418.30" y1="307.35" x2="437.70" y2="307.35" stroke="#ffff00" stroke-width="2" />
<line x1="469.10" y1="275.37" x2="469.10" y2="294.10" stroke="#ff0000" stroke-width="2" />
<line x1="469.10" y1="334.76" x2="469.10" y2="355.31" stroke="#ff0000" stroke-width="2" />
<line x1="464.10" y1="275.37" x2="474.10" y2="275.37" stroke="#ff0000" stroke-width="2" />
<line x1="464.10" y1="355.31" x2="474.10" y2="355.31" stroke="#ff0000" stroke-width="2" />
<rect x="459.40" y="294.10" width="19.4" height="40.66" fill="none" stroke="#ff0000" stroke-width="2"/>
<line x1="459.40" y1="311.46" x2="478.80" y2="311.46" stroke="#ff0000" stroke-width="2" />
<line x1="510.80" y1="277.66" x2="510.80" y2="294.10" stroke="#008000" stroke-width="2" />
<line x1="510.80" y1="338.41" x2="510.80" y2="358.97" stroke="#008000" stroke-width="2" />
<line x1="505.80" y1="277.66" x2="515.80" y2="277.66" stroke="#008000" stroke-width="2" />
<line x1="505.80" y1="358.97" x2="515.80" y2="358.97" stroke="#008000" stroke-width="2" />
<rect x="501.10" y="294.10" width="19.4" height="44.31" fill="none" stroke="#008000" stroke-width="2"/>
<line x1="501.10" y1="306.89" x2="520.50" y2="306.89" stroke="#008000" stroke-width="2" />
<line x1="552.20" y1="277.66" x2="552.20" y2="295.93" stroke="#0000ff" stroke-width="2" />
<line x1="552.20" y1="336.58" x2="552.20" y2="358.05" stroke="#0000ff" stroke-width="2" />
<line x1="547.20" y1="277.66" x2="557.20" y2="277.66" stroke="#0000ff" stroke-width="2" />
<line x1="547.20" y1="358.05" x2="557.20" y2="358.05" stroke="#0000ff" stroke-width="2" />
<rect x="542.50" y="295.93" width="19.4" height="40.66" fill="none" stroke="#0000ff" stroke-width="2"/>
<line x1="542.50" y1="308.72" x2="561.90" y2="308.72" stroke="#0000ff" stroke-width="2" />
<ellipse cx="428.00" cy="361.76" rx="3.0" ry="2.5" fill="#0000ff"/>
<circle cx="469.10" cy="357.90" r="2.4" fill="none" stroke="#ff0000" stroke-width="1.5"/>
<ellipse cx="510.80" cy="275.67" rx="3.0" ry="2.5" fill="#0000ff"/>
<ellipse cx="510.80" cy="361.76" rx="3.0" ry="2.5" fill="#0000ff"/>
<circle cx="552.20" cy="276.74" r="2.4" fill="none" stroke="#ff0000" stroke-width="1.5"/>
<circle cx="552.20" cy="360.34" r="2.4" fill="none" stroke="#ff0000" stroke-width="1.5"/>
<line x1="407.30" y1="257.10" x2="573.50" y2="257.10" stroke="#000000" stroke-width="1.9" />
<line x1="406.35" y1="371.30" x2="574.45" y2="371.30" stroke="#000000" stroke-width="1.9" />
<line x1="407.30" y1="256.15" x2="407.30" y2="372.25" stroke="#000000" stroke-width="1.9" />
<line x1="573.50" y1="256.15" x2="573.50" y2="372.25" stroke="#000000" stroke-width="1.9" />
<line x1="401.30" y1="371.30" x2="407.30" y2="371.30" stroke="#000000" stroke-width="1.9" />
<text x="400.20" y="374.90" font-size="9.8" text-anchor="end" font-weight="bold" fill="#000000" textLength="14.70" lengthAdjust="spacingAndGlyphs">4.0</text>
<line x1="401.30" y1="348.46" x2="407.30" y2="348.46" stroke="#000000" stroke-width="1.9" />
<text x="400.20" y="352.06" font-size="9.8" text-anchor="end" font-weight="bold" fill="#000000" textLength="14.70" lengthAdjust="spacingAndGlyphs">4.5</text>
<line x1="401.30" y1="325.62" x2="407.30" y2="325.62" stroke="#000000" stroke-width="1.9" />
<text x="400.20" y="329.22" font-size="9.8" text-anchor="end" font-weight="bold" fill="#000000" textLength="14.70" lengthAdjust="spacingAndGlyphs">5.0</text>
<line x1="401.30" y1="302.78" x2="407.30" y2="302.78" stroke="#000000" stroke-width="1.9" />
<text x="400.20" y="306.38" font-size="9.8" text-anchor="end" font-weight="bold" fill="#000000" textLength="14.70" lengthAdjust="spacingAndGlyphs">5.5</text>
<line x1="401.30" y1="279.94" x2="407.30" y2="279.94" stroke="#000000" stroke-width="1.9" />
<text x="400.20" y="283.54" font-size="9.8" text-anchor="end" font-weight="bold" fill="#000000" textLength="14.70" lengthAdjust="spacingAndGlyphs">6.0</text>
<line x1="401.30" y1="257.10" x2="407.30" y2="257.10" stroke="#000000" stroke-width="1.9" />
<text x="400.20" y="260.70" font-size="9.8" text-anchor="end" font-weight="bold" fill="#000000" textLength="14.70" lengthAdjust="spacingAndGlyphs">6.5</text>
<line x1="573.50" y1="371.30" x2="578.00" y2="371.30" stroke="#000000" stroke-width="1.9" />
<text x="580.80" y="374.90" font-size="10.0" text-anchor="start" font-weight="bold" fill="#000000" textLength="5.50" lengthAdjust="spacingAndGlyphs">0</text>
<line x1="573.50" y1="333.24" x2="578.00" y2="333.24" stroke="#000000" stroke-width="1.9" />
<text x="580.80" y="336.84" font-size="10.0" text-anchor="start" font-weight="bold" fill="#000000" textLength="5.50" lengthAdjust="spacingAndGlyphs">5</text>
<line x1="573.50" y1="295.17" x2="578.00" y2="295.17" stroke="#000000" stroke-width="1.9" />
<text x="580.80" y="298.77" font-size="10.0" text-anchor="start" font-weight="bold" fill="#000000" textLength="11.00" lengthAdjust="spacingAndGlyphs">10</text>
<line x1="573.50" y1="257.11" x2="578.00" y2="257.11" stroke="#000000" stroke-width="1.9" />
<text x="580.80" y="260.71" font-size="10.0" text-anchor="start" font-weight="bold" fill="#000000" textLength="11.00" lengthAdjust="spacingAndGlyphs">15</text>
<line x1="428.00" y1="371.30" x2="428.00" y2="375.30" stroke="#000000" stroke-width="1.9" />
<text x="427.80" y="385.80" font-size="10.5" text-anchor="middle" font-weight="bold" fill="#000000" textLength="20.40" lengthAdjust="spacingAndGlyphs">0-72</text>
<line x1="469.10" y1="371.30" x2="469.10" y2="375.30" stroke="#000000" stroke-width="1.9" />
<text x="468.90" y="385.80" font-size="10.5" text-anchor="middle" font-weight="bold" fill="#000000" textLength="20.40" lengthAdjust="spacingAndGlyphs">0-72</text>
<line x1="510.80" y1="371.30" x2="510.80" y2="375.30" stroke="#000000" stroke-width="1.9" />
<text x="510.60" y="385.80" font-size="10.5" text-anchor="middle" font-weight="bold" fill="#000000" textLength="20.40" lengthAdjust="spacingAndGlyphs">0-72</text>
<line x1="552.20" y1="371.30" x2="552.20" y2="375.30" stroke="#000000" stroke-width="1.9" />
<text x="552.00" y="385.80" font-size="10.5" text-anchor="middle" font-weight="bold" fill="#000000" textLength="20.40" lengthAdjust="spacingAndGlyphs">0-72</text>
<text transform="translate(496.50 401.40) scale(1.12 1)" x="0" y="0" font-size="9.7" text-anchor="middle" font-weight="bold" fill="#000000" textLength="57.86" lengthAdjust="spacing">Time (hours)</text>
<text x="371.00" y="315.30" font-size="9.6" text-anchor="middle" font-weight="bold" fill="#000000" textLength="40.90" lengthAdjust="spacingAndGlyphs" transform="rotate(-90 371.00 315.30)">pH Values</text>
<text x="607.60" y="326.70" font-size="9.6" text-anchor="middle" font-weight="bold" fill="#000000" textLength="59.60" lengthAdjust="spacingAndGlyphs" transform="rotate(-90 607.60 326.70)">No. of samples</text>
<text transform="translate(415.10 242.20) scale(1.1 1)" x="0" y="0" font-size="9.4" text-anchor="start" font-weight="bold" fill="#000000" textLength="158.36" lengthAdjust="spacing">The pH changes in prickly ash meal</text>
<text x="395.60" y="244.40" font-size="16.5" text-anchor="start" font-weight="bold" fill="#000000" textLength="10.00" lengthAdjust="spacingAndGlyphs">d</text>
<rect x="607.10" y="244.10" width="12.4" height="3.5" fill="none" stroke="#ffff00" stroke-width="2"/>
<text x="629.30" y="248.90" font-size="9.7" text-anchor="start" font-weight="bold" fill="#000000" textLength="28.51" lengthAdjust="spacingAndGlyphs">Test 1</text>
<rect x="607.10" y="255.30" width="12.4" height="3.5" fill="none" stroke="#ff0000" stroke-width="2"/>
<text x="629.30" y="260.20" font-size="9.7" text-anchor="start" font-weight="bold" fill="#000000" textLength="28.51" lengthAdjust="spacingAndGlyphs">Test 2</text>
<rect x="607.10" y="266.30" width="12.4" height="3.5" fill="none" stroke="#008000" stroke-width="2"/>
<text x="629.30" y="270.90" font-size="9.7" text-anchor="start" font-weight="bold" fill="#000000" textLength="28.51" lengthAdjust="spacingAndGlyphs">Test 3</text>
<rect x="607.10" y="277.60" width="12.4" height="3.5" fill="none" stroke="#0000ff" stroke-width="2"/>
<text x="629.30" y="282.40" font-size="9.7" text-anchor="start" font-weight="bold" fill="#000000" textLength="39.83" lengthAdjust="spacingAndGlyphs">Average</text>
</svg>
</body></html>
